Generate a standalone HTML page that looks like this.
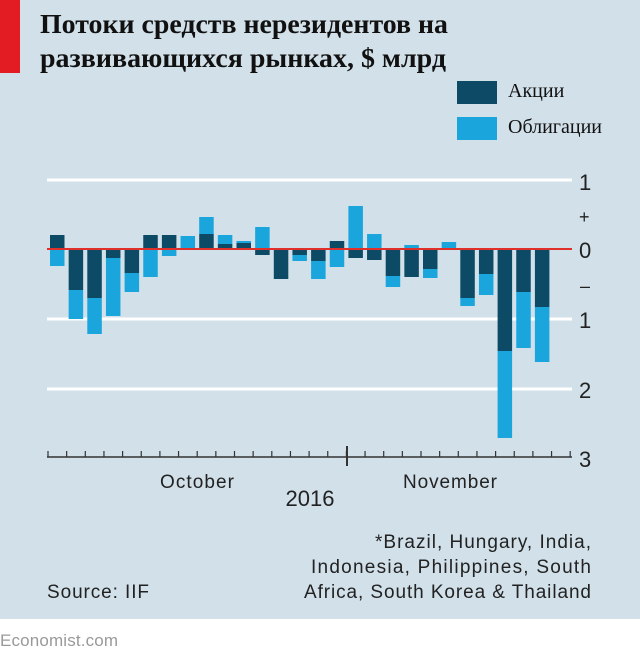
<!DOCTYPE html>
<html><head><meta charset="utf-8"><style>
body{margin:0;background:#fff}
svg{display:block}
.s{font-family:"Liberation Sans",sans-serif;fill:#222}
.t{font-family:"Liberation Serif","Noto Serif CJK SC",serif}
</style></head><body>
<svg width="640" height="659" xmlns="http://www.w3.org/2000/svg">
<rect x="0" y="0" width="640" height="619" fill="#d1e0e9"/>
<rect x="0" y="0" width="20" height="73" fill="#e31b23"/>
<text class="t" x="40" y="33" font-size="27" font-weight="bold" fill="#111" textLength="408" lengthAdjust="spacingAndGlyphs">Потоки средств нерезидентов на</text>
<text class="t" x="40" y="67" font-size="27" font-weight="bold" fill="#111" textLength="406" lengthAdjust="spacingAndGlyphs">развивающихся рынках, $ млрд</text>
<rect x="457" y="81" width="40" height="23" fill="#0c4a66"/>
<rect x="457" y="117" width="40" height="23" fill="#1ba5dd"/>
<text class="t" x="508" y="97" font-size="20" fill="#111">Акции</text>
<text class="t" x="508" y="133" font-size="20" fill="#111">Облигации</text>
<g stroke="#fff" stroke-width="3">
<line x1="47" y1="180" x2="572" y2="180"/>
<line x1="47" y1="319" x2="572" y2="319"/>
<line x1="47" y1="389" x2="572" y2="389"/>
</g>
<g id="bars"></g>
<line x1="47" y1="249" x2="572" y2="249" stroke="#e0302a" stroke-width="2"/>
<line x1="47" y1="457" x2="572" y2="457" stroke="#333" stroke-width="1.5"/>
<g id="ticks" stroke="#333" stroke-width="1.2"></g>
<line x1="347" y1="446" x2="347" y2="466" stroke="#333" stroke-width="2"/>
<g class="s" font-size="22">
<text x="579" y="190">1</text>
<text x="579" y="223" font-size="18">+</text>
<text x="579" y="258">0</text>
<text x="580" y="292" font-size="18">–</text>
<text x="579" y="328">1</text>
<text x="579" y="398">2</text>
<text x="579" y="467">3</text>
</g>
<g class="s" font-size="19">
<text x="197" y="488" text-anchor="middle" textLength="74">October</text>
<text x="450" y="488" text-anchor="middle" textLength="94">November</text>
<text x="310" y="506" text-anchor="middle" font-size="22">2016</text>
<text x="591" y="548" text-anchor="end" textLength="216">*Brazil, Hungary, India,</text>
<text x="591" y="573" text-anchor="end" textLength="280">Indonesia, Philippines, South</text>
<text x="591" y="598" text-anchor="end" textLength="287">Africa, South Korea &amp; Thailand</text>
<text x="47" y="598" textLength="102">Source: IIF</text>
<text x="0" y="646" fill="#999" font-size="17" textLength="118">Economist.com</text>
</g>
</svg>
<script>
var d=[[235,249,249,266],[249,290,290,319],[249,298,298,334],[249,258,258,316],[249,273,273,292],[235,249,249,277],[235,249,249,256],[249,249,236,249],[234,249,217,234],[244,249,235,244],[243,249,241,243],[249,255,227,249],[249,279,0,0],[249,255,255,261],[249,261,261,279],[241,249,249,267],[249,258,206,249],[249,260,234,249],[249,276,276,287],[249,277,245,249],[249,269,269,278],[0,0,242,249],[249,298,298,306],[249,274,274,295],[249,351,351,438],[249,292,292,348],[249,307,307,362]];
var ns="http://www.w3.org/2000/svg",g=document.getElementById('bars');
function r(x,y1,y2,c){if(y2<=y1)return;var e=document.createElementNS(ns,'rect');e.setAttribute('x',x);e.setAttribute('y',y1);e.setAttribute('width',14.5);e.setAttribute('height',y2-y1);e.setAttribute('fill',c);g.appendChild(e);}
d.forEach(function(b,i){var x=50+i*18.65;r(x,b[0],b[1],'#0c4a66');r(x,b[2],b[3],'#1ba5dd');});
var t=document.getElementById('ticks');
for(var i=0;i<29;i++){var x=48+i*18.65;var l=document.createElementNS(ns,'line');l.setAttribute('x1',x);l.setAttribute('x2',x);l.setAttribute('y1',451);l.setAttribute('y2',457);t.appendChild(l);}
</script>
</body></html>
